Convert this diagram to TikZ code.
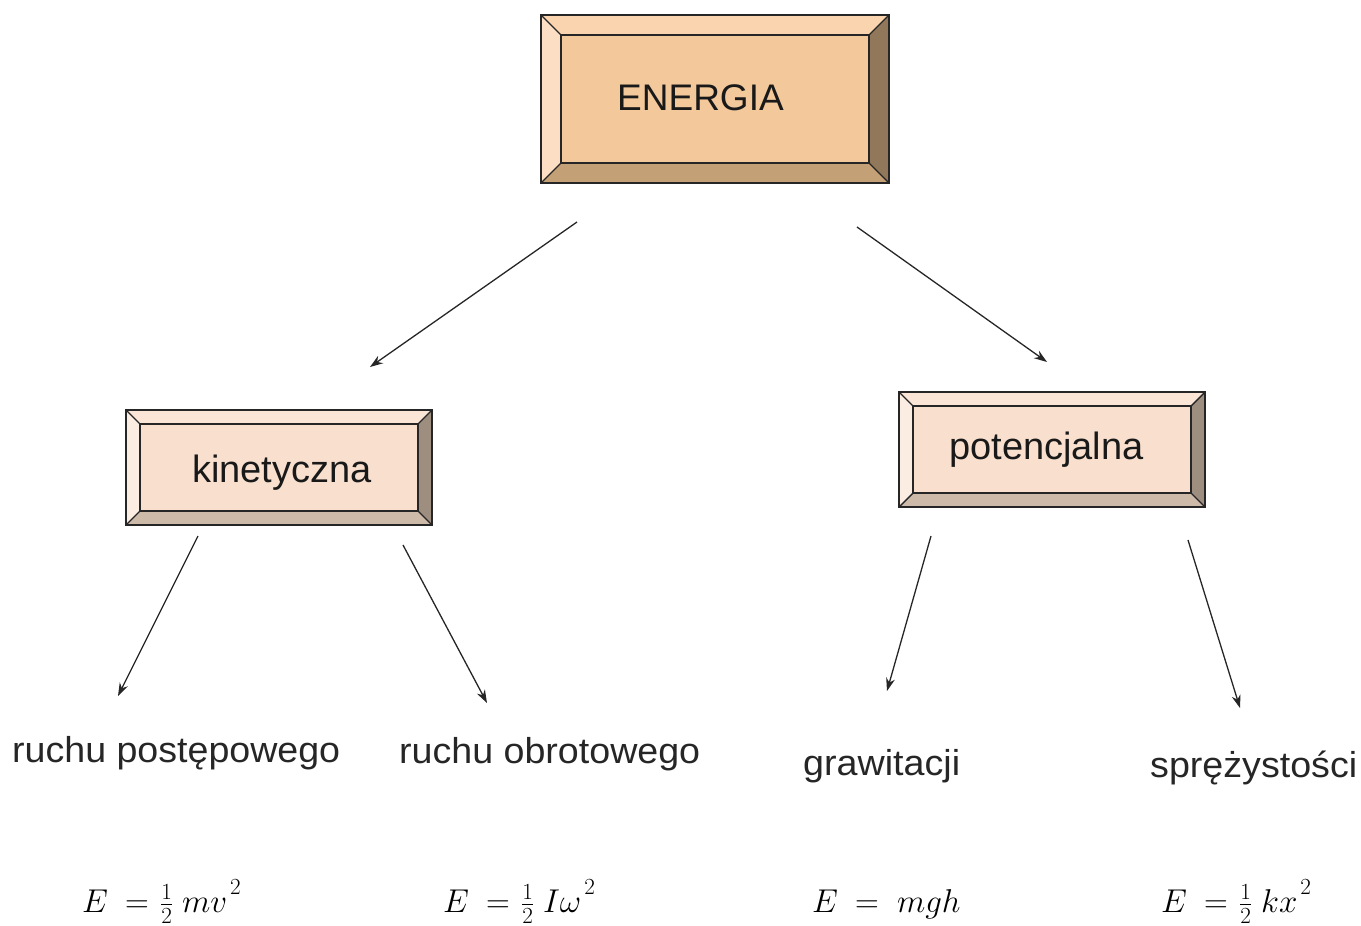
\documentclass[tikz,border=0pt]{standalone}
\usepackage{fix-cm}
\usepackage[no-math]{fontspec}
\setmainfont{Liberation Sans}
\usetikzlibrary{arrows.meta,calc}
\definecolor{bigC}{RGB}{243,200,154}
\definecolor{bigT}{RGB}{249,212,174}
\definecolor{bigL}{RGB}{251,222,196}
\definecolor{bigR}{RGB}{145,120,90}
\definecolor{bigB}{RGB}{196,160,118}
\definecolor{smC}{RGB}{249,224,206}
\definecolor{smT}{RGB}{250,229,214}
\definecolor{smL}{RGB}{252,237,226}
\definecolor{smR}{RGB}{158,142,128}
\definecolor{smB}{RGB}{206,186,168}
\newcommand\bevelit[7]{%
 \fill[#3] (#1.north west) -- (#1.north east) -- ($(#1.north east)+(-#2,#2)$) -- ($(#1.north west)+(#2,#2)$) -- cycle;
 \fill[#4] (#1.north west) -- ($(#1.north west)+(#2,#2)$) -- ($(#1.south west)+(#2,-#2)$) -- (#1.south west) -- cycle;
 \fill[#5] (#1.north east) -- ($(#1.north east)+(-#2,#2)$) -- ($(#1.south east)+(-#2,-#2)$) -- (#1.south east) -- cycle;
 \fill[#6] (#1.south west) -- ($(#1.south west)+(#2,-#2)$) -- ($(#1.south east)+(-#2,-#2)$) -- (#1.south east) -- cycle;
 \fill[#7] ($(#1.north west)+(#2,#2)$) rectangle ($(#1.south east)+(-#2,-#2)$);
 \draw[edgeln] ($(#1.north west)+(#2,#2)$) rectangle ($(#1.south east)+(-#2,-#2)$);
 \draw[edgeln] (#1.north west) -- ($(#1.north west)+(#2,#2)$);
 \draw[edgeln] (#1.north east) -- ($(#1.north east)+(-#2,#2)$);
 \draw[edgeln] (#1.south west) -- ($(#1.south west)+(#2,-#2)$);
 \draw[edgeln] (#1.south east) -- ($(#1.south east)+(-#2,-#2)$);
 \draw[edgeln] (#1.north west) rectangle (#1.south east);
}
\newcommand\sqr{^{\hspace{3pt}\raisebox{6pt}{$\scriptstyle 2$}}}
\tikzset{
 edgeln/.style={draw=black!85, line width=1.4pt},
 boxn/.style={inner sep=0pt, outer sep=0pt},
 boxtxt/.style={inner sep=0pt, anchor=base west, font=\fontsize{37}{42}\selectfont, text=black!90},
 lbl/.style={inner sep=0pt, anchor=base west, font=\fontsize{36}{40}\selectfont, text=black!85},
 frm/.style={inner sep=0pt, anchor=base west, font=\fontsize{33}{38}\selectfont},
 arr/.style={line width=1.3pt, draw=black!85, -{Stealth[length=13pt,width=9pt]}},
}
\begin{document}
\begin{tikzpicture}[x=1pt,y=-1pt]
\useasboundingbox (0,0) rectangle (1361,926);
% boxes
\node[boxn, minimum width=348pt, minimum height=168pt] (energia) at (715,99) {};
\bevelit{energia}{20}{bigT}{bigL}{bigR}{bigB}{bigC}
\node[boxtxt] (energiaT) at (617,110) {ENERGIA};
\node[boxn, minimum width=306pt, minimum height=115pt] (kin) at (279,467.5) {};
\bevelit{kin}{14}{smT}{smL}{smR}{smB}{smC}
\node[boxtxt, font=\fontsize{38}{42}\selectfont] (kinT) at (192,482) {kinetyczna};
\node[boxn, minimum width=306pt, minimum height=115pt] (pot) at (1052,449.5) {};
\bevelit{pot}{14}{smT}{smL}{smR}{smB}{smC}
\node[boxtxt, font=\fontsize{38}{42}\selectfont] (potT) at (949,459) {potencjalna};
% labels
\node[lbl] (postep) at (12,762) {\resizebox{328pt}{\height}{ruchu postępowego}};
\node[lbl] (obrot) at (399,763) {\resizebox{301pt}{\height}{ruchu obrotowego}};
\node[lbl] (graw) at (803,775) {\resizebox{157pt}{\height}{grawitacji}};
\node[lbl] (sprez) at (1150,777) {\resizebox{207pt}{\height}{sprężystości}};
% formulas
\node[frm] (f1) at (82,912) {$E\hspace{8pt}=\hspace{2pt}\frac{1}{2}\hspace{9pt}mv\sqr$};
\node[frm] (f2) at (443,912) {$E\hspace{8pt}=\hspace{2pt}\frac{1}{2}\hspace{9pt}I\omega\sqr$};
\node[frm] (f3) at (812,912) {$E\hspace{8pt}=\hspace{9pt}mgh$};
\node[frm] (f4) at (1161,912) {$E\hspace{8pt}=\hspace{2pt}\frac{1}{2}\hspace{9pt}kx\sqr$};
% arrow endpoints
\coordinate (a1s) at (577,222); \coordinate (a1e) at (370,367);
\coordinate (a2s) at (857,227); \coordinate (a2e) at (1047,362);
\coordinate (a3s) at (198,536); \coordinate (a3e) at (118,696);
\coordinate (a4s) at (403,545); \coordinate (a4e) at (487,703);
\coordinate (a5s) at (931,536); \coordinate (a5e) at (887,691);
\coordinate (a6s) at (1188,540); \coordinate (a6e) at (1240,708);
\draw[arr] (a1s) -- (a1e);
\draw[arr] (a2s) -- (a2e);
\draw[arr] (a3s) -- (a3e);
\draw[arr] (a4s) -- (a4e);
\draw[arr] (a5s) -- (a5e);
\draw[arr] (a6s) -- (a6e);
\end{tikzpicture}
\end{document}
